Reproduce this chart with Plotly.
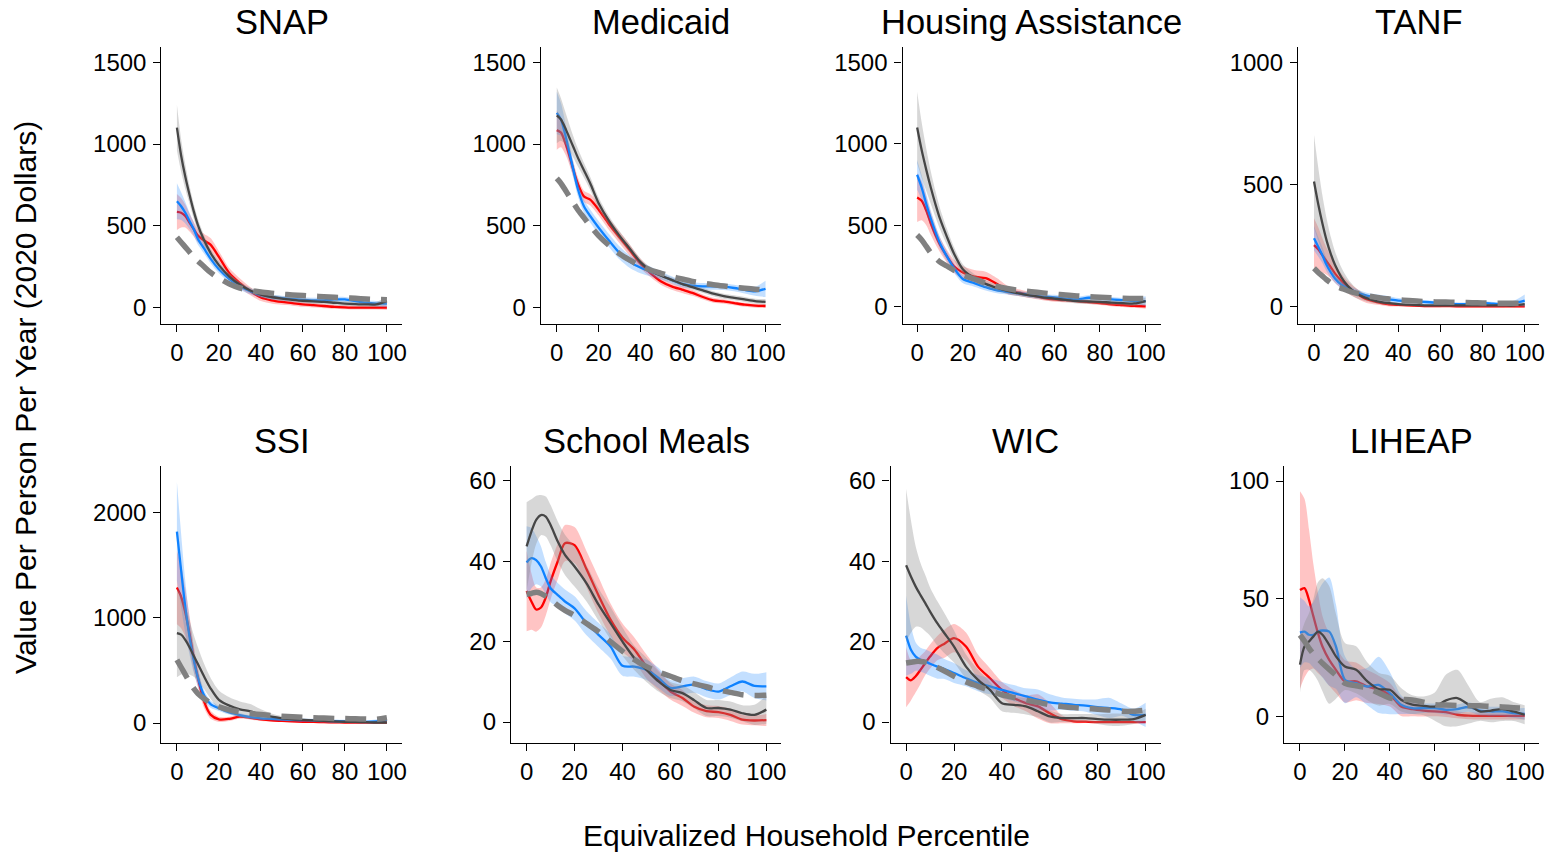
import plotly.graph_objects as go

# ---------------- data ----------------
X = [0, 2, 4, 6, 8, 10, 13, 16, 20, 25, 30, 35, 40, 45, 50, 55, 60, 65, 70, 75, 80, 85, 90, 95, 100]

TITLES = ["SNAP", "Medicaid", "Housing Assistance", "TANF", "SSI", "School Meals", "WIC", "LIHEAP"]
X_TICKS = [0, 20, 40, 60, 80, 100]
Y_TICKS = [[0, 500, 1000, 1500], [0, 500, 1000, 1500], [0, 500, 1000, 1500], [0, 500, 1000],
           [0, 1000, 2000], [0, 20, 40, 60], [0, 20, 40, 60], [0, 50, 100]]

SNAP_red = [585, 580, 560, 520, 480, 440, 410, 385, 310, 210, 150, 100, 62, 45, 35, 28, 20, 15, 10, 5, 2, 0, 0, 0, 0]
SNAP_red_hw = [110, 90, 70, 55, 45, 40, 40, 40, 35, 30, 28, 25, 22, 20, 18, 16, 15, 14, 13, 12, 12, 12, 12, 12, 14]
SNAP_blue = [650, 620, 580, 530, 480, 420, 360, 300, 235, 175, 130, 100, 78, 65, 58, 52, 48, 45, 45, 50, 50, 40, 30, 25, 25]
SNAP_blue_hw = [110, 85, 65, 50, 40, 35, 30, 28, 25, 22, 20, 18, 16, 15, 15, 15, 15, 15, 15, 15, 15, 15, 15, 16, 22]
SNAP_gray = [1100, 930, 800, 690, 590, 505, 410, 335, 260, 190, 140, 105, 80, 65, 55, 48, 42, 38, 35, 30, 25, 22, 20, 20, 40]
SNAP_gray_hw = [140, 100, 75, 55, 45, 38, 30, 25, 22, 20, 18, 16, 15, 15, 15, 15, 15, 15, 15, 15, 15, 15, 15, 16, 25]
SNAP_dash = [430, 400, 370, 340, 310, 285, 250, 215, 180, 145, 120, 105, 95, 88, 82, 78, 74, 70, 67, 63, 60, 57, 53, 50, 48]

MED_red = [1085, 1070, 1010, 930, 840, 760, 680, 660, 600, 510, 430, 350, 270, 210, 160, 130, 110, 90, 65, 45, 38, 28, 18, 12, 10]
MED_red_hw = [120, 90, 70, 55, 45, 40, 35, 35, 35, 35, 35, 35, 30, 25, 22, 20, 20, 18, 16, 15, 14, 13, 12, 12, 12]
MED_blue = [1190, 1150, 1060, 950, 840, 730, 620, 560, 490, 410, 335, 280, 245, 220, 195, 170, 145, 135, 130, 130, 128, 120, 108, 100, 115]
MED_blue_hw = [130, 100, 75, 60, 50, 45, 40, 40, 40, 40, 40, 38, 35, 30, 25, 22, 20, 20, 20, 20, 20, 20, 22, 28, 50]
MED_gray = [1175, 1150, 1100, 1040, 980, 920, 840, 760, 640, 530, 440, 360, 280, 225, 195, 170, 145, 125, 105, 85, 70, 60, 50, 40, 35]
MED_gray_hw = [170, 130, 100, 80, 65, 55, 45, 40, 35, 30, 28, 25, 22, 20, 18, 16, 15, 15, 15, 15, 15, 15, 15, 15, 18]
MED_dash = [790, 760, 720, 680, 640, 600, 550, 500, 440, 380, 330, 290, 255, 230, 210, 190, 175, 160, 150, 140, 132, 125, 118, 112, 108]

HOU_red = [670, 650, 590, 510, 440, 380, 310, 250, 210, 185, 175, 140, 100, 85, 70, 55, 45, 40, 35, 28, 22, 15, 10, 5, 2]
HOU_red_hw = [150, 120, 90, 70, 55, 45, 40, 40, 40, 40, 40, 35, 25, 20, 18, 15, 14, 13, 12, 12, 12, 12, 12, 12, 14]
HOU_blue = [810, 730, 630, 540, 460, 390, 310, 240, 170, 145, 120, 100, 90, 80, 70, 62, 58, 50, 45, 55, 52, 45, 40, 35, 35]
HOU_blue_hw = [90, 75, 60, 50, 42, 36, 30, 28, 25, 22, 20, 18, 16, 15, 15, 15, 15, 15, 15, 15, 15, 15, 15, 18, 30]
HOU_gray = [1100, 960, 840, 730, 630, 540, 430, 330, 230, 175, 140, 115, 95, 80, 68, 58, 50, 42, 35, 32, 30, 25, 22, 20, 35]
HOU_gray_hw = [220, 170, 130, 100, 80, 65, 50, 40, 30, 25, 22, 20, 18, 16, 15, 15, 15, 15, 15, 15, 15, 15, 15, 16, 22]
HOU_dash = [440, 410, 370, 330, 300, 275, 250, 225, 195, 170, 145, 125, 110, 100, 92, 85, 78, 72, 66, 62, 58, 55, 52, 50, 50]

TANF_red = [252, 235, 210, 185, 160, 135, 105, 80, 55, 30, 18, 10, 7, 5, 3, 2, 2, 2, 1, 1, 1, 1, 1, 1, 1]
TANF_red_hw = [110, 90, 70, 55, 45, 38, 30, 25, 20, 15, 10, 8, 6, 5, 4, 4, 4, 4, 4, 4, 4, 4, 4, 4, 5]
TANF_blue = [280, 245, 210, 170, 140, 115, 90, 75, 60, 45, 35, 30, 25, 22, 20, 18, 15, 12, 10, 12, 15, 12, 10, 15, 25]
TANF_blue_hw = [50, 40, 32, 26, 22, 18, 15, 13, 12, 12, 15, 14, 10, 8, 7, 7, 7, 7, 7, 7, 7, 7, 8, 10, 25]
TANF_gray = [512, 420, 340, 270, 215, 170, 120, 85, 55, 35, 22, 15, 10, 8, 6, 5, 5, 5, 5, 5, 5, 5, 5, 5, 10]
TANF_gray_hw = [190, 150, 115, 90, 70, 55, 40, 30, 20, 14, 10, 8, 6, 5, 5, 5, 5, 5, 5, 5, 5, 5, 5, 5, 8]
TANF_dash = [157, 140, 125, 110, 97, 85, 75, 65, 55, 45, 38, 32, 28, 25, 22, 20, 19, 18, 17, 16, 15, 14, 14, 14, 14]

SSI_red = [1288, 1200, 1050, 850, 620, 430, 200, 80, 35, 40, 60, 50, 35, 25, 20, 15, 12, 10, 8, 6, 5, 5, 5, 5, 5]
SSI_red_hw = [350, 300, 230, 170, 120, 90, 60, 40, 25, 20, 20, 18, 15, 12, 10, 10, 10, 10, 10, 10, 10, 10, 10, 10, 12]
SSI_blue = [1820, 1450, 1100, 820, 600, 430, 260, 180, 140, 100, 75, 55, 45, 40, 35, 30, 28, 25, 20, 18, 15, 12, 10, 15, 30]
SSI_blue_hw = [470, 350, 250, 170, 120, 80, 50, 35, 25, 20, 18, 16, 15, 15, 15, 15, 15, 15, 15, 15, 15, 15, 15, 18, 25]
SSI_gray = [854, 840, 790, 720, 640, 560, 440, 330, 220, 165, 130, 110, 80, 60, 45, 35, 30, 25, 20, 15, 12, 10, 8, 5, 5]
SSI_gray_hw = [420, 380, 320, 260, 200, 160, 120, 100, 90, 80, 75, 70, 50, 30, 20, 15, 12, 12, 12, 12, 12, 12, 12, 12, 14]
SSI_dash = [600, 530, 460, 390, 330, 280, 230, 190, 155, 125, 105, 90, 80, 72, 65, 60, 55, 50, 47, 44, 42, 40, 38, 36, 50]

SCH_red = [32.6, 30, 28, 28.5, 31, 35, 40, 44.5, 44, 38, 31.5, 25.5, 21, 18, 13.8, 10.5, 7.6, 6, 3.8, 2.7, 2.5, 1.8, 0.6, 0.4, 0.5]
SCH_red_hw = [10, 7, 5.5, 5, 4.5, 4.5, 4.5, 4.5, 4.5, 4.5, 4.5, 4, 3.5, 3, 3, 2.5, 2, 2, 1.5, 1.5, 1.5, 1.5, 1.2, 1.2, 1.5]
SCH_blue = [39.7, 40.8, 40.3, 38.7, 35.8, 33.3, 31.6, 30, 28.3, 24.6, 21.7, 18.8, 14, 13.8, 13, 11, 8.5, 8.9, 9.3, 8.2, 7.6, 8.9, 10.1, 9, 8.9]
SCH_blue_hw = [9, 7.5, 6, 5, 4, 3.5, 3, 3, 3, 3, 3, 3, 2.5, 2.5, 2.5, 2.5, 2, 2, 2, 2, 2, 2.2, 2.5, 3, 3.5]
SCH_gray = [43.7, 47.4, 50.3, 51.5, 51.1, 49, 44.9, 41.6, 38.7, 34.5, 29.2, 24.6, 20, 15.9, 13, 10.1, 8, 7.2, 5.4, 3.5, 3.5, 3.1, 2.2, 1.8, 3.1]
SCH_gray_hw = [11, 8, 6, 5, 5, 5, 5, 5, 5, 4.5, 4, 4, 3.5, 3, 3, 2.5, 2, 2, 2, 2, 2, 2, 2, 2.5, 3.5]
SCH_dash = [31.8, 32, 32.3, 32, 31.3, 30.5, 29, 27.8, 26.5, 24.5, 22.5, 20, 17.6, 15.5, 13.8, 12.5, 11.4, 10.3, 9.5, 8.8, 8, 7.4, 6.8, 6.6, 6.7]

WIC_red = [11.2, 10.4, 11.4, 13, 14.7, 16.3, 18.4, 19.5, 20.9, 18.8, 13.8, 10.9, 8, 6, 4.7, 3.9, 2.2, 0.7, 0.2, 0.1, 0, 0, 0, 0, 0]
WIC_red_hw = [7.5, 5, 4, 3.5, 3, 3, 3, 3.5, 3.5, 3.5, 3, 2.5, 2, 2, 2, 3, 2.5, 1, 0.5, 0.3, 0.3, 0.3, 0.3, 0.3, 0.3]
WIC_blue = [21.5, 18, 16.3, 15.5, 15.1, 14.5, 13.8, 13.2, 12.2, 10.9, 9.7, 8.9, 8, 7.2, 6.4, 5.6, 4.9, 4.6, 4.3, 4.1, 3.7, 3.5, 3.1, 1.8, 1.8]
WIC_blue_hw = [10, 6, 3.5, 3, 3, 3, 3, 2.5, 2.5, 2, 2, 2, 2, 2, 2, 2.5, 2, 1.5, 1.5, 1.5, 2, 2.5, 1.5, 1.5, 3]
WIC_gray = [39, 36.2, 33.7, 31.6, 29.6, 27.5, 24.6, 22.1, 18.8, 13.8, 10.5, 8, 4.7, 4.3, 3.9, 2.7, 1.4, 1, 1, 1, 0.75, 0.6, 0.6, 0.75, 1.8]
WIC_gray_hw = [19, 14, 10, 8, 7, 6, 5.5, 5, 4, 3, 2.5, 2, 2, 2, 2, 1.5, 1.5, 1, 1, 1, 1.2, 1.5, 1.5, 1.2, 1.5]
WIC_dash = [14.7, 14.9, 15.1, 15.1, 14.9, 14.5, 13.6, 12.7, 11.4, 10, 8.9, 7.8, 6.8, 6.1, 5.5, 4.9, 4.3, 3.9, 3.6, 3.4, 3.2, 3, 2.7, 2.7, 3]

LIH_red = [53.7, 54.5, 49.5, 42.4, 35.4, 29.7, 24, 19.8, 14.9, 14.9, 12.7, 11.3, 9.2, 4.2, 3.1, 2.5, 2.1, 1.8, 0.7, 0.3, 0.2, 0.2, 0.2, 0.2, 0.2]
LIH_red_hw = [42, 38, 30, 22, 17, 13, 11, 10, 9, 8, 7, 6, 5, 4, 3, 2.5, 2, 2, 1.5, 1.5, 1.5, 1.5, 1.5, 1.5, 1.5]
LIH_blue = [35.6, 36, 34.7, 34.7, 36, 36.5, 36, 29.7, 15.6, 14.1, 12.7, 13.4, 9.9, 5, 3.5, 3.5, 3.5, 2.8, 3.1, 4, 2.5, 2.1, 2.1, 1.4, 1.1]
LIH_blue_hw = [15, 13, 12, 14, 17, 20, 23, 18, 10, 6, 8, 12, 9, 4, 2.5, 2, 2, 2, 2, 2, 2, 2, 2, 2, 2.5]
LIH_gray = [22, 29.7, 31.8, 34, 36, 34.7, 30.4, 25.5, 21.2, 19.8, 14.9, 11.6, 11.3, 7.1, 5, 4.5, 4.2, 6.8, 7.8, 5, 2.1, 2.5, 3.1, 2.1, 0.7]
LIH_gray_hw = [12, 10, 12, 16, 21, 24, 25, 18, 10, 10, 8, 7, 6, 5, 4, 4, 6, 11, 12, 8, 4, 5, 5, 4, 4]
LIH_dash = [34.6, 32, 29, 26.5, 24.5, 22.6, 20, 17.5, 14.1, 13, 12, 10, 7.8, 7.3, 7, 6, 5, 4.8, 4.6, 4.5, 4.5, 4.2, 4, 3.7, 3.5]

DATA = [
    (SNAP_red, SNAP_red_hw, SNAP_blue, SNAP_blue_hw, SNAP_gray, SNAP_gray_hw, SNAP_dash),
    (MED_red, MED_red_hw, MED_blue, MED_blue_hw, MED_gray, MED_gray_hw, MED_dash),
    (HOU_red, HOU_red_hw, HOU_blue, HOU_blue_hw, HOU_gray, HOU_gray_hw, HOU_dash),
    (TANF_red, TANF_red_hw, TANF_blue, TANF_blue_hw, TANF_gray, TANF_gray_hw, TANF_dash),
    (SSI_red, SSI_red_hw, SSI_blue, SSI_blue_hw, SSI_gray, SSI_gray_hw, SSI_dash),
    (SCH_red, SCH_red_hw, SCH_blue, SCH_blue_hw, SCH_gray, SCH_gray_hw, SCH_dash),
    (WIC_red, WIC_red_hw, WIC_blue, WIC_blue_hw, WIC_gray, WIC_gray_hw, WIC_dash),
    (LIH_red, LIH_red_hw, LIH_blue, LIH_blue_hw, LIH_gray, LIH_gray_hw, LIH_dash),
]

# ---------------- layout geometry (pixels in the 1558x854 window) ----------------
W, H = 1558, 854
PX = [(162, 404), (543, 784), (906, 1165), (1303, 1545),
      (162, 404), (513, 784), (894, 1165), (1289, 1545)]
PY = [(47, 324), (47, 324), (47, 324), (47, 324),
      (466, 743), (466, 743), (466, 743), (466, 743)]
XR = [(-7.4, 107.4), (-7.6, 107.4), (-6.4, 106.5), (-7.6, 106.8),
      (-7.4, 107.4), (-6.5, 106.1), (-6.5, 106.2), (-7.1, 106.4)]
YR = [(-100, 1593), (-100, 1593), (-106, 1594), (-71, 1062),
      (-190, 2443), (-5.2, 63.7), (-5.2, 63.7), (-11.3, 106.4)]


def px(x):
    return x / W


def py(y):
    return 1 - y / H


RED, BLUE, DGRAY, MGRAY = "rgb(255,0,0)", "rgb(15,130,255)", "rgb(70,70,70)", "rgb(128,128,128)"
BANDS = {"red": "rgba(255,60,60,0.3)", "blue": "rgba(40,140,255,0.28)", "gray": "rgba(140,140,140,0.35)"}
FONT = "Liberation Sans, Arial, Helvetica, sans-serif"

fig = go.Figure()
annotations = []
layout = {}

for i, d in enumerate(DATA):
    n = i + 1
    xa = "x" if n == 1 else f"x{n}"
    ya = "y" if n == 1 else f"y{n}"
    red, red_hw, blue, blue_hw, gray, gray_hw, dash = d
    for vals, hw, col, bcol in [(red, red_hw, RED, BANDS["red"]),
                                (blue, blue_hw, BLUE, BANDS["blue"]),
                                (gray, gray_hw, DGRAY, BANDS["gray"])]:
        lo = [v - h for v, h in zip(vals, hw)]
        up = [v + h for v, h in zip(vals, hw)]
        fig.add_trace(go.Scatter(x=X, y=lo, mode="lines", line=dict(width=0, shape="spline", smoothing=0.8),
                                 hoverinfo="skip", showlegend=False, xaxis=xa, yaxis=ya))
        fig.add_trace(go.Scatter(x=X, y=up, mode="lines", line=dict(width=0, shape="spline", smoothing=0.8),
                                 fill="tonexty", fillcolor=bcol, hoverinfo="skip", showlegend=False,
                                 xaxis=xa, yaxis=ya))
        fig.add_trace(go.Scatter(x=X, y=vals, mode="lines", line=dict(color=col, width=2.3, shape="spline", smoothing=0.8),
                                 showlegend=False, xaxis=xa, yaxis=ya))
    fig.add_trace(go.Scatter(x=X, y=dash, mode="lines",
                             line=dict(color=MGRAY, width=5.5, dash="21px,11px", shape="spline", smoothing=0.8),
                             showlegend=False, xaxis=xa, yaxis=ya))

    l, r = PX[i]
    t, b = PY[i]
    axis_common = dict(showgrid=False, zeroline=False, showline=True, linecolor="black", linewidth=1.3,
                       ticks="outside", ticklen=7, tickwidth=1.3, tickcolor="black",
                       tickfont=dict(family=FONT, size=24, color="black"), fixedrange=True)
    layout["xaxis" if n == 1 else f"xaxis{n}"] = dict(
        domain=[px(l), px(r)], range=list(XR[i]), tickvals=X_TICKS, anchor=ya,
        ticklabelstandoff=0, **axis_common)
    layout["yaxis" if n == 1 else f"yaxis{n}"] = dict(
        domain=[py(b), py(t)], range=list(YR[i]), tickvals=Y_TICKS[i], anchor=xa,
        ticklabelstandoff=2, **axis_common)
    ty = 22 if i < 4 else 441
    annotations.append(dict(text=TITLES[i], x=px((l + r) / 2), y=py(ty), xref="paper", yref="paper",
                            xanchor="center", yanchor="middle", showarrow=False,
                            font=dict(family=FONT, size=34.5, color="black")))

annotations.append(dict(text="Value Per Person Per Year (2020 Dollars)", x=px(26), y=py(397),
                        xref="paper", yref="paper", textangle=-90, showarrow=False,
                        xanchor="center", yanchor="middle", font=dict(family=FONT, size=30, color="black")))
annotations.append(dict(text="Equivalized Household Percentile", x=px(810), y=py(835),
                        xref="paper", yref="paper", showarrow=False,
                        xanchor="center", yanchor="middle", font=dict(family=FONT, size=30, color="black")))

fig.update_layout(width=W, height=H, margin=dict(l=0, r=0, t=0, b=0), paper_bgcolor="white",
                  plot_bgcolor="white", showlegend=False, annotations=annotations, **layout)

# remove the browser's default page margin so the figure fills the window exactly
fig.write_html("out.html", config={"displayModeBar": False},
               post_script="document.body.style.margin='0px';document.body.style.overflow='hidden';")
